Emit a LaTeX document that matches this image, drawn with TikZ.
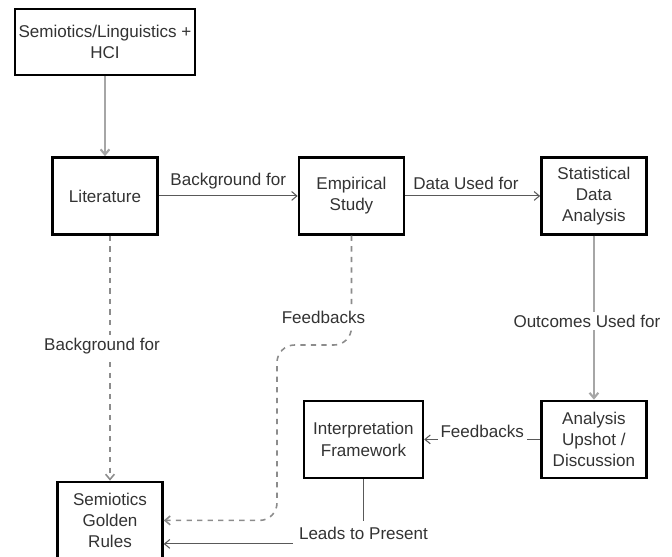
\documentclass[tikz,border=0pt]{standalone}
\usepackage{fontspec}
\setmainfont{Liberation Sans}
\usetikzlibrary{positioning, arrows.meta}
\newcommand{\boxfont}{\fontsize{9.7}{12}\selectfont}

\tikzset{
  stage/.style={draw=black, line width=1.4pt, fill=white, align=center, inner sep=2pt,
    minimum width=2.1cm, minimum height=1.54cm, font=\boxfont, text=black!80},
  lbl/.style={fill=white, inner sep=1.5pt, font=\boxfont, text=black!80},
  flow/.style={draw=black!65, line width=0.6pt, -{Straight Barb[length=3pt,width=5pt]}},
  mainflow/.style={draw=black!35, line width=1.2pt, -{Straight Barb[length=3pt,width=5pt]}},
  backflow/.style={draw=black!45, line width=0.9pt, dashed, -{Straight Barb[length=3pt,width=5pt]}},
}

\begin{document}
\begin{tikzpicture}
    \useasboundingbox (0,0) rectangle (13.44,-11.14);

    % Top row
    \node[stage, minimum width=3.6cm, minimum height=1.32cm] (semio) at (2.1,-0.84) {Semiotics/Linguistics +\\HCI};
    \node[stage, below=1.6cm of semio] (lit) {Literature};
    \node[stage, right=2.78cm of lit] (emp) {Empirical\\Study};
    \node[stage, right=2.7cm of emp] (stat) {Statistical\\Data\\Analysis};

    % Bottom row
    \node[stage, below=3.28cm of stat] (upshot) {Analysis\\Upshot /\\Discussion};
    \node[stage, left=2.32cm of upshot, minimum width=2.38cm] (interp) {Interpretation\\Framework};
    \node[stage, below=4.9cm of lit, xshift=0.1cm] (golden) {Semiotics\\Golden\\Rules};

    % Forward flow
    \draw[mainflow] (semio.south -| lit.north) -- (lit.north);
    \draw[flow] (lit) -- node[lbl, above=2pt] {Background for} (emp);
    \draw[flow] (emp) -- node[lbl, above=2pt, pos=0.45] {Data Used for} (stat);
    \draw[mainflow] (stat) -- node[lbl, pos=0.52, xshift=-0.14cm] {Outcomes Used for} (upshot);
    \draw[flow] (upshot) -- node[lbl, yshift=0.16cm] {Feedbacks} (interp);
    \draw[flow] (interp.south) |- node[lbl, inner sep=3.5pt, yshift=0.22cm] {Leads to Present} ([yshift=-0.47cm]golden.east);

    % Feedback into the rules
    \draw[backflow] (lit.south -| golden.north) -- node[lbl, pos=0.45, xshift=-0.16cm] {Background for} (golden.north);
    \draw[backflow, rounded corners=0.35cm] (emp.south) |- node[lbl, pos=0.375, xshift=-0.56cm] {Feedbacks} (5.54,-6.9) |- (golden.east);
\end{tikzpicture}
\end{document}
